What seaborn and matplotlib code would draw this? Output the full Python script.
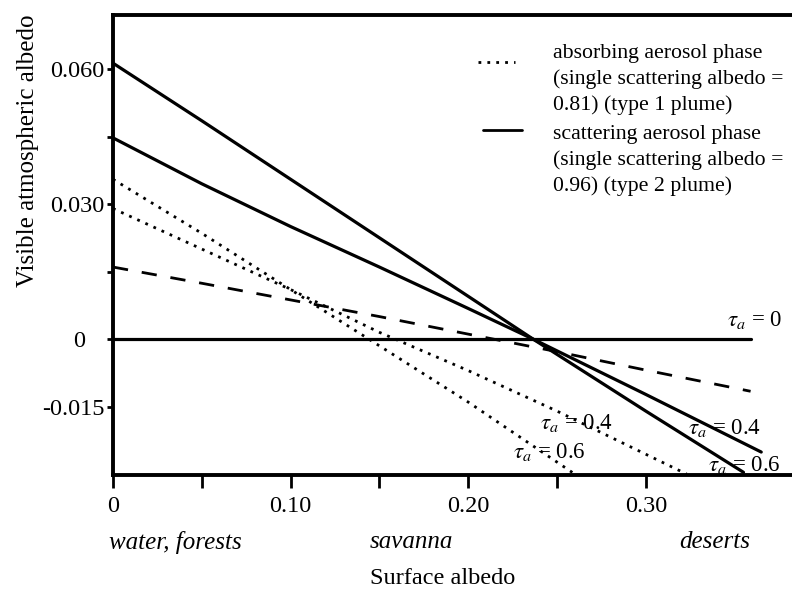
import matplotlib
matplotlib.use("Agg")
import matplotlib.pyplot as plt
from matplotlib.lines import Line2D
import seaborn as sns

# ---------------- data ----------------
x_scat_06 = [0.0, 0.05, 0.10, 0.15, 0.20, 0.2365, 0.30, 0.355]
y_scat_06 = [0.0613, 0.0485, 0.0355, 0.0225, 0.0095, 0.0, -0.0160, -0.0296]

x_scat_04 = [0.0, 0.05, 0.10, 0.15, 0.20, 0.2365, 0.30, 0.365]
y_scat_04 = [0.0447, 0.0345, 0.0250, 0.0160, 0.0068, 0.0, -0.0123, -0.0251]

x_abs_06 = [0.0, 0.05, 0.10, 0.15, 0.20, 0.26]
y_abs_06 = [0.0355, 0.0235, 0.0110, -0.0015, -0.0140, -0.0300]

x_abs_04 = [0.0, 0.05, 0.10, 0.15, 0.20, 0.25, 0.323]
y_abs_04 = [0.0290, 0.0200, 0.0110, 0.0015, -0.0070, -0.0160, -0.0300]

x_dash = [0.0, 0.05, 0.10, 0.15, 0.20, 0.25, 0.30, 0.359]
y_dash = [0.0160, 0.0124, 0.0087, 0.0050, 0.0011, -0.0028, -0.0069, -0.0116]

x_zero = [0.0, 0.359]
y_zero = [0.0, 0.0]

x_ticks = [0.0, 0.05, 0.10, 0.15, 0.20, 0.25, 0.30]
x_tick_labels = ["0", "", "0.10", "", "0.20", "", "0.30"]
y_ticks = [-0.015, 0.0, 0.015, 0.030, 0.045, 0.060]
y_tick_labels = ["-0.015", "0   ", "", "0.030", "", "0.060"]

surface_types = ["water, forests", "savanna", "deserts"]
surface_pos = [0.035, 0.168, 0.339]

legend_abs = ["absorbing aerosol phase", "(single scattering albedo =", "0.81) (type 1 plume)"]
legend_scat = ["scattering aerosol phase", "(single scattering albedo =", "0.96) (type 2 plume)"]

# ---------------- style ----------------
sns.set_theme(style="ticks")
plt.rcParams["font.family"] = ["Liberation Serif", "DejaVu Serif"]
plt.rcParams["mathtext.fontset"] = "stix"

W, H = 792, 591
fig = plt.figure(figsize=(W / 100, H / 100), dpi=100)
ax = fig.add_axes([113 / W, 1 - 475 / H, (W - 113) / W, (475 - 15) / H])

LW = 2.3
sns.lineplot(x=x_scat_06, y=y_scat_06, ax=ax, color="black", lw=LW, sort=False)
sns.lineplot(x=x_scat_04, y=y_scat_04, ax=ax, color="black", lw=LW, sort=False)
sns.lineplot(x=x_zero, y=y_zero, ax=ax, color="black", lw=LW, sort=False)
sns.lineplot(x=x_abs_06, y=y_abs_06, ax=ax, color="black", lw=2.0,
             linestyle=(0, (1, 2.2)), sort=False)
sns.lineplot(x=x_abs_04, y=y_abs_04, ax=ax, color="black", lw=2.0,
             linestyle=(0, (1, 2.2)), sort=False)
sns.lineplot(x=x_dash, y=y_dash, ax=ax, color="black", lw=2.0,
             linestyle=(0, (5.5, 5.0)), sort=False)

ax.set_xlim(0, (W - 113) / 1776)
ax.set_ylim(-0.0302, 0.072)

for s in ["left", "top", "bottom"]:
    ax.spines[s].set_linewidth(2.8)
    ax.spines[s].set_color("black")
ax.spines["right"].set_visible(False)

ax.set_xticks(x_ticks)
ax.set_xticklabels(x_tick_labels)
ax.set_yticks(y_ticks)
ax.set_yticklabels(y_tick_labels)
ax.tick_params(axis="x", direction="out", length=9, width=2, pad=6,
               labelsize=17.5, colors="black")
ax.tick_params(axis="y", direction="out", length=4.5, width=2, pad=1.5,
               labelsize=17.5, colors="black")

ax.set_xlabel("Surface albedo", fontsize=17.5, color="black")
ax.xaxis.set_label_coords(0.486, -0.224)
ax.xaxis.label.set_va("center")
ax.set_ylabel("Visible atmospheric albedo", fontsize=18, color="black")
ax.yaxis.set_label_coords(-0.125, 0.704)
ax.yaxis.label.set_va("center")

# surface-type labels
for name, xp in zip(surface_types, surface_pos):
    ax.text(xp, -0.1457, name, transform=ax.get_xaxis_transform(),
            ha="center", va="center", fontsize=18, style="italic", color="black")

# tau labels
lab_kw = dict(fontsize=16.5, ha="left", va="center", color="black")
ax.text(0.3457, 0.0042, r"$\tau_a$ = 0", **lab_kw)
ax.text(0.2404, -0.0187, r"$\tau_a$ = 0.4", **lab_kw)
ax.text(0.2250, -0.0251, r"$\tau_a$ = 0.6", **lab_kw)
ax.text(0.3237, -0.0198, r"$\tau_a$ = 0.4", **lab_kw)
ax.text(0.3350, -0.0280, r"$\tau_a$ = 0.6", **lab_kw)

# legend (manual, to match layout)
fig.add_artist(Line2D([478 / W, 515 / W], [1 - 62 / H, 1 - 62 / H],
                      transform=fig.transFigure, color="black", lw=2.0,
                      linestyle=(0, (1, 2.2))))
fig.add_artist(Line2D([483 / W, 522 / W], [1 - 130 / H, 1 - 130 / H],
                      transform=fig.transFigure, color="black", lw=2.0))
centers = [52, 78, 104, 133, 159, 185]
for txt, cy in zip(legend_abs + legend_scat, centers):
    fig.text(553 / W, 1 - (cy + 6) / H, txt, fontsize=15.7, ha="left",
             va="baseline", color="black")

fig.savefig("out.png", dpi=100)
